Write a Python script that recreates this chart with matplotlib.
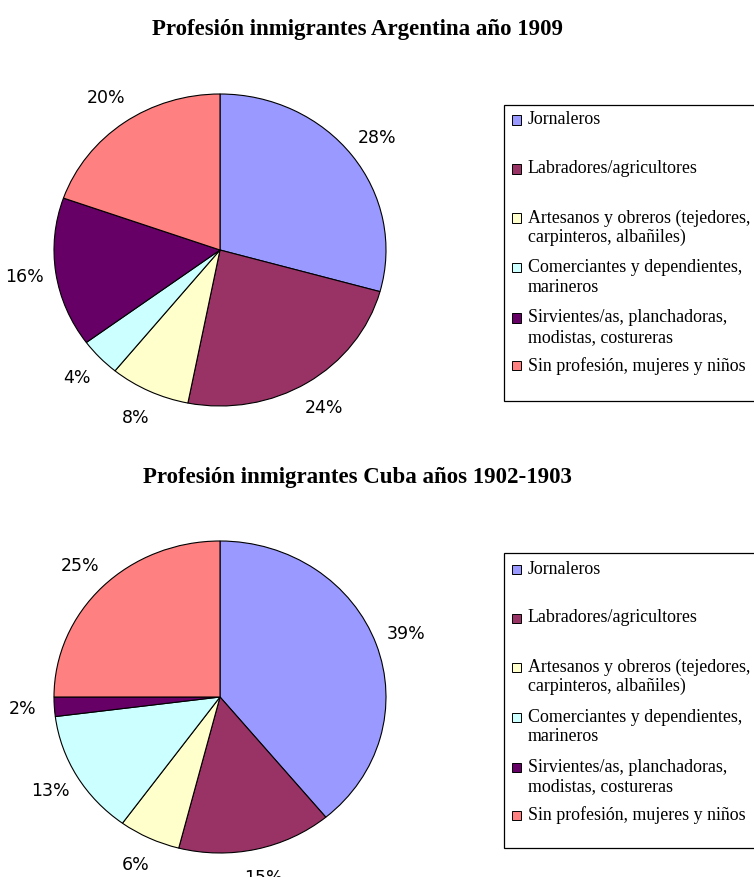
import matplotlib
matplotlib.use("Agg")
import matplotlib.pyplot as plt
from matplotlib.patches import Rectangle

# categories and shares
categories = [
    "Jornaleros",
    "Labradores/agricultores",
    "Artesanos y obreros (tejedores,\ncarpinteros, albañiles)",
    "Comerciantes y dependientes,\nmarineros",
    "Sirvientes/as, planchadoras,\nmodistas, costureras",
    "Sin profesión, mujeres y niños",
]
# slice sizes as drawn (Argentina slices don't quite agree with the printed labels)
argentina_1909 = [29.3, 23.8, 7.8, 4.0, 15.5, 19.6]
argentina_labels = ["28%", "24%", "8%", "4%", "16%", "20%"]
cuba_1902_1903 = [39, 15, 6, 13, 2, 25]
cuba_labels = ["39%", "15%", "6%", "13%", "2%", "25%"]
titles = ["Profesión inmigrantes Argentina año 1909",
          "Profesión inmigrantes Cuba años 1902-1903"]
colors = ["#9999FF", "#993366", "#FFFFCC", "#CCFFFF", "#660066", "#FF8080"]

W, H = 754, 877
fig = plt.figure(figsize=(W / 100, H / 100), dpi=100)
fig.patch.set_facecolor("white")


def fx(x):
    return x / W


def fy(y):
    return 1 - y / H


def draw_block(values, pct_labels, title, cy, title_y, legend_top, legend_bottom, entry_y):
    rx, ry = 166, 156
    lim = 1.3
    ax = fig.add_axes([fx(220 - lim * rx), fy(cy + lim * ry), lim * 2 * rx / W, lim * 2 * ry / H])
    label_iter = iter(pct_labels)
    ax.pie(values, colors=colors, startangle=90, counterclock=False,
           autopct=lambda p: next(label_iter), pctdistance=1.19,
           wedgeprops=dict(edgecolor="black", linewidth=0.8),
           textprops=dict(fontsize=12.5, family="DejaVu Sans", color="black"))
    ax.set_aspect("auto")
    ax.set_xlim(-lim, lim)
    ax.set_ylim(-lim, lim)

    fig.text(fx(357), fy(title_y), title, ha="center", va="center",
             fontsize=16.5, fontweight="bold", family="Liberation Serif")

    # legend box (runs past the right edge as in the reference)
    fig.patches.append(Rectangle((fx(504), fy(legend_bottom)), fx(300), (legend_bottom - legend_top) / H,
                                 transform=fig.transFigure, facecolor="white",
                                 edgecolor="black", linewidth=0.9))
    for label, color, y in zip(categories, colors, entry_y):
        fig.patches.append(Rectangle((fx(512), fy(y + 4.5)), 9 / W, 9 / H,
                                     transform=fig.transFigure, facecolor=color,
                                     edgecolor="black", linewidth=0.7))
        for i, line in enumerate(label.split("\n")):
            fig.text(fx(528), fy(y + i * 19.5), line, ha="left", va="center",
                     fontsize=12.9, family="Liberation Serif")


entries_top = [120, 169, 218, 268, 318, 366]
draw_block(argentina_1909, argentina_labels, titles[0], 250, 30, 105, 401, entries_top)
draw_block(cuba_1902_1903, cuba_labels, titles[1], 697, 478, 553, 848,
           [y + 449 for y in entries_top])

fig.savefig("out.png", dpi=100)
